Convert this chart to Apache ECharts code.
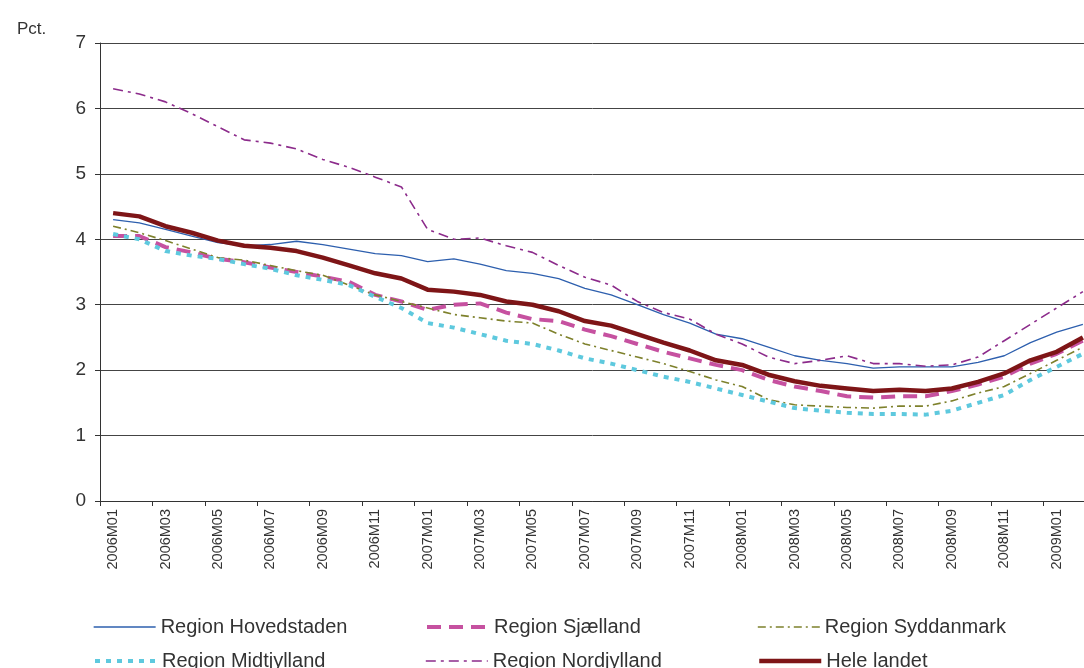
<!DOCTYPE html>
<html><head><meta charset="utf-8">
<script src="https://cdn.jsdelivr.net/npm/echarts@6/dist/echarts.min.js"></script>
<style>html,body{margin:0;padding:0;background:#fff}#main{width:1084px;height:668px}</style>
</head><body><div id="main"></div>
<script>
var months = [];
for (var y = 2006; y <= 2009; y++) for (var m = 1; m <= 12; m++) {
  if (months.length < 38) months.push(y + 'M' + (m < 10 ? '0' + m : m));
}
var yTicks = [0, 1, 2, 3, 4, 5, 6, 7];

var hovedstaden = [4.3,4.25,4.15,4.05,3.95,3.9,3.92,3.97,3.92,3.85,3.78,3.75,3.66,3.7,3.62,3.52,3.48,3.4,3.25,3.15,3.0,2.85,2.72,2.55,2.48,2.35,2.22,2.15,2.1,2.03,2.05,2.05,2.05,2.12,2.22,2.42,2.58,2.7];
var sjaelland = [4.05,4.05,3.88,3.8,3.7,3.65,3.57,3.5,3.43,3.35,3.15,3.05,2.92,3.0,3.02,2.88,2.78,2.75,2.62,2.52,2.4,2.28,2.18,2.08,2.0,1.85,1.75,1.68,1.6,1.58,1.6,1.6,1.68,1.78,1.9,2.1,2.25,2.45];
var syddanmark = [4.2,4.1,3.98,3.85,3.72,3.68,3.6,3.52,3.45,3.3,3.15,3.05,2.95,2.85,2.8,2.75,2.72,2.55,2.4,2.3,2.2,2.1,1.98,1.85,1.75,1.55,1.47,1.45,1.43,1.42,1.45,1.45,1.53,1.65,1.75,1.95,2.15,2.35];
var midtjylland = [4.08,4.0,3.82,3.75,3.7,3.62,3.55,3.45,3.38,3.3,3.12,2.95,2.72,2.65,2.55,2.45,2.4,2.3,2.18,2.1,2.0,1.9,1.82,1.72,1.62,1.52,1.42,1.38,1.35,1.33,1.33,1.32,1.38,1.5,1.62,1.85,2.05,2.25];
var nordjylland = [6.3,6.22,6.1,5.92,5.72,5.52,5.47,5.38,5.22,5.1,4.95,4.8,4.15,4.0,4.02,3.9,3.8,3.6,3.42,3.3,3.05,2.88,2.78,2.55,2.4,2.2,2.1,2.15,2.22,2.1,2.1,2.06,2.08,2.2,2.45,2.7,2.95,3.2];
var heleLandet = [4.4,4.35,4.2,4.1,3.98,3.9,3.87,3.82,3.72,3.6,3.48,3.4,3.23,3.2,3.15,3.05,3.0,2.9,2.75,2.68,2.55,2.42,2.3,2.15,2.08,1.93,1.83,1.76,1.72,1.68,1.7,1.68,1.72,1.82,1.95,2.15,2.28,2.5];

var defs = [
  {name:'Region Hovedstaden', data:hovedstaden, color:'#2d5fae', width:1.3, type:'solid'},
  {name:'Region Sjælland', data:sjaelland, color:'#c651a0', width:4, type:[14,8]},
  {name:'Region Syddanmark', data:syddanmark, color:'#7e812c', width:1.6, type:[8,4,2,4]},
  {name:'Region Midtjylland', data:midtjylland, color:'#5ec9de', width:4, type:[5,6]},
  {name:'Region Nordjylland', data:nordjylland, color:'#8c2b8b', width:1.6, type:[10,5,3,5]},
  {name:'Hele landet', data:heleLandet, color:'#7e1517', width:4.5, type:'solid'}
];
var legendPos = [[88,612],[420,612],[752,612],[88,646],[420,646],[752,646]];

var chart = echarts.init(document.getElementById('main'));
chart.setOption({
  animation:false,
  textStyle:{fontFamily:'Liberation Sans'},
  grid:{left:100,width:996,top:43,bottom:167,outerBoundsMode:'none',containLabel:false},
  title:{text:'Pct.',left:12,top:16,textStyle:{fontSize:17,fontWeight:'normal',color:'#333'}},
  legend: defs.map(function(d,i){return {
    data:[d.name], left:legendPos[i][0], top:legendPos[i][1],
    itemWidth:62, itemHeight:14, itemStyle:{opacity:0},
    lineStyle:{width:d.width,type:d.type},
    textStyle:{fontSize:20,color:'#333'}
  };}),
  xAxis:{type:'category',data:months,boundaryGap:true,
    axisLine:{lineStyle:{color:'#333'}},axisTick:{show:true,lineStyle:{color:'#333'}},
    axisLabel:{rotate:90,interval:1,fontSize:14.5,color:'#333'}},
  yAxis:{type:'value',min:yTicks[0],max:yTicks[yTicks.length-1],interval:1,
    axisLine:{show:true,lineStyle:{color:'#333'}},axisTick:{show:true,lineStyle:{color:'#333'}},
    axisLabel:{fontSize:19,color:'#333',margin:14},
    splitLine:{lineStyle:{color:'#444',width:1}}},
  series: defs.map(function(d){return {
    name:d.name,type:'line',data:d.data,symbol:'none',color:d.color,
    lineStyle:{color:d.color,width:d.width,type:d.type}
  };})
});
</script></body></html>
